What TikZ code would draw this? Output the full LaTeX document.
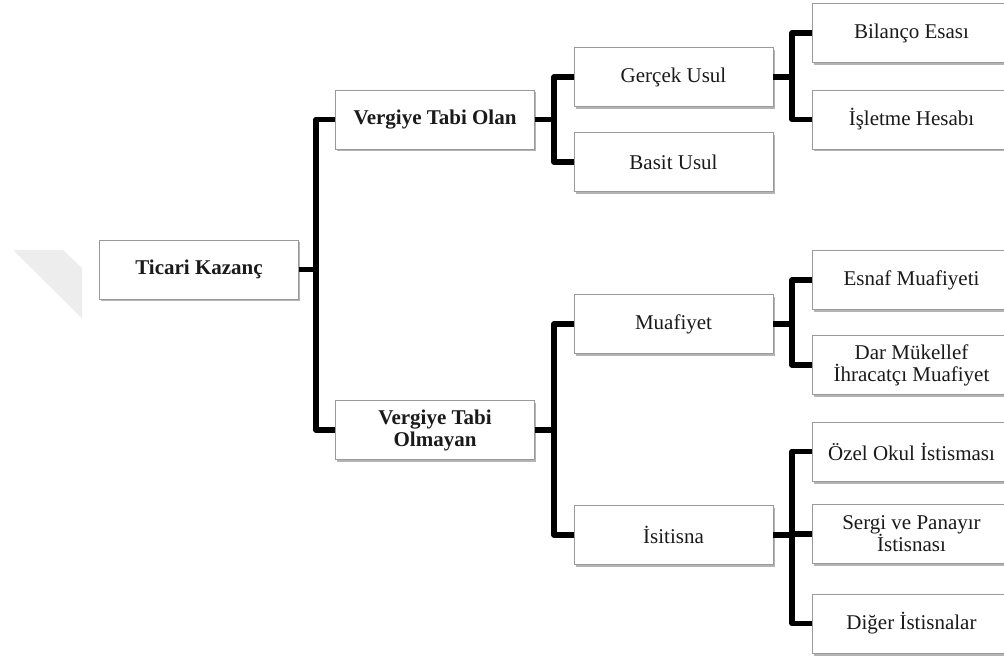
\documentclass[tikz,border=0pt]{standalone}
\usepackage{fontspec}
\setmainfont{Liberation Serif}
\usetikzlibrary{shadows}
\definecolor{boxborder}{HTML}{9A9A9A}
\definecolor{txt}{HTML}{1A1A1A}
\definecolor{wm}{HTML}{EDEDED}
\tikzset{
  box/.style={draw=boxborder, line width=0.8pt, fill=white, minimum width=199pt, minimum height=59pt,
    inner sep=2pt, align=center, text=txt, font=\fontsize{21}{22}\selectfont,
    drop shadow={shadow xshift=1.5pt, shadow yshift=-2.5pt, opacity=0.45, fill=black!65}},
  boldbox/.style={box, font=\fontsize{21}{22}\selectfont\bfseries},
  conn/.style={draw=black, line width=5.5pt, line join=round}
}
\begin{document}
\begin{tikzpicture}[x=1pt,y=-1pt]
\useasboundingbox (0,0) rectangle (1004,660);
\fill[white] (0,0) rectangle (1004,660);
% faint watermark shape
\fill[wm] (13,250) -- (63,250) -- (82,268) -- (82,318) -- cycle;

\node[boldbox] (tk)   at (199,269.5) {Ticari Kazanç};
\node[boldbox] (vto)  at (435,119.5) {Vergiye Tabi Olan};
\node[boldbox] (vtom) at (435,430)   {Vergiye Tabi\\Olmayan};
\node[box] (gu) at (673.5,77)  {Gerçek Usul};
\node[box] (bu) at (673.5,162) {Basit Usul};
\node[box] (mu) at (673.5,324) {Muafiyet};
\node[box] (is) at (673.5,535) {İsitisna};
\node[box] (be) at (911.5,33)    {Bilanço Esası};
\node[box] (ih) at (911.5,119.5) {İşletme Hesabı};
\node[box] (em) at (911.5,280)   {Esnaf Muafiyeti};
\node[box] (dm) at (911.5,365)   {Dar Mükellef\\İhracatçı Muafiyet};
\node[box] (oz) at (911.5,451.5) {Özel Okul İstisması};
\node[box] (sp) at (911.5,534)   {Sergi ve Panayır\\İstisnası};
\node[box] (de) at (911.5,623.5) {Diğer İstisnalar};

\coordinate (j1) at (316,269.5);
\coordinate (j2a) at (554,119.5);
\coordinate (j2b) at (554,430);
\coordinate (j3a) at (792,77);
\coordinate (j3b) at (792,324);
\coordinate (j3c) at (792,535);

\draw[conn] (tk.east) -- (j1) |- (vto.west);
\draw[conn] (j1) |- (vtom.west);
\draw[conn] (vto.east) -- (j2a) |- (gu.west);
\draw[conn] (j2a) |- (bu.west);
\draw[conn] (vtom.east) -- (j2b) |- (mu.west);
\draw[conn] (j2b) |- (is.west);
\draw[conn] (gu.east) -- (j3a) |- (be.west);
\draw[conn] (j3a) |- (ih.west);
\draw[conn] (mu.east) -- (j3b) |- (em.west);
\draw[conn] (j3b) |- (dm.west);
\draw[conn] (is.east) -- (j3c) |- (oz.west);
\draw[conn] (j3c) |- (sp.west);
\draw[conn] (j3c) |- (de.west);
\end{tikzpicture}
\end{document}
